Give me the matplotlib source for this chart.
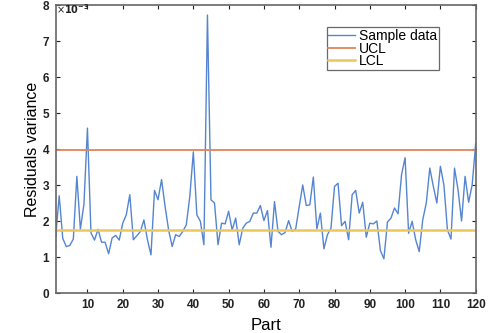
import numpy as np
import matplotlib
matplotlib.use("Agg")
import matplotlib.pyplot as plt
from matplotlib.ticker import ScalarFormatter, MultipleLocator

# Residual variance per part (scale 1e-3)
parts = np.arange(1, 121)
residual_var = np.array([
    1.57, 2.70, 1.52, 1.29, 1.32, 1.50, 3.24, 1.77, 2.46, 4.58,
    1.67, 1.47, 1.77, 1.41, 1.41, 1.09, 1.53, 1.60, 1.47, 1.94,
    2.17, 2.73, 1.48, 1.59, 1.71, 2.03, 1.48, 1.06, 2.85, 2.59,
    3.15, 2.40, 1.75, 1.29, 1.62, 1.57, 1.71, 1.89, 2.68, 3.92,
    2.17, 1.99, 1.34, 7.72, 2.59, 2.50, 1.34, 1.94, 1.92, 2.27,
    1.75, 2.08, 1.34, 1.80, 1.94, 1.99, 2.22, 2.22, 2.43, 2.01,
    2.29, 1.27, 2.54, 1.71, 1.62, 1.68, 2.01, 1.71, 1.78, 2.40,
    3.00, 2.43, 2.45, 3.22, 1.78, 2.22, 1.23, 1.62, 1.80, 2.96,
    3.05, 1.87, 1.99, 1.48, 2.73, 2.85, 2.22, 2.52, 1.55, 1.94,
    1.92, 2.00, 1.18, 0.95, 1.97, 2.08, 2.36, 2.20, 3.29, 3.76,
    1.66, 1.99, 1.48, 1.15, 2.03, 2.50, 3.47, 2.96, 2.50, 3.52,
    3.00, 1.75, 1.50, 3.47, 2.87, 2.00, 3.24, 2.52, 3.00, 4.15,
]) * 1e-3
ucl = 3.98e-3
lcl = 1.76e-3

x_ticks = list(range(10, 121, 10))

plt.rcParams["font.family"] = ["Liberation Sans", "DejaVu Sans"]

fig = plt.figure(figsize=(4.91, 3.33), dpi=100)
ax = fig.add_axes([0.1134, 0.1201, 0.8554, 0.8649])

ax.plot(parts, residual_var, color="#5585d0", lw=1.0, label="Sample data")
ax.plot([parts[0], parts[-1]], [ucl, ucl], color="#e2835a", lw=1.3, label="UCL")
ax.plot([parts[0], parts[-1]], [lcl, lcl], color="#ecc75a", lw=1.8, label="LCL")

ax.set_xlim(1, 120)
ax.set_ylim(0, 8e-3)
ax.set_xticks(x_ticks)
ax.yaxis.set_major_locator(MultipleLocator(1e-3))

fmt = ScalarFormatter(useMathText=True)
fmt.set_powerlimits((-3, -3))
ax.yaxis.set_major_formatter(fmt)
ax.yaxis.get_offset_text().set_visible(False)

ax.tick_params(direction="in", top=True, right=True, length=3, width=0.8,
               labelsize=8.5, colors="#222222", pad=4)
for lbl in ax.get_xticklabels() + ax.get_yticklabels():
    lbl.set_fontweight("bold")

# axis multiplier shown at the top-left corner of the axes
fig.text(0.115, 0.993, r"$\times\mathbf{10^{-3}}$", fontsize=7, fontweight="bold",
         ha="left", va="top", color="#222222")

for sp in ax.spines.values():
    sp.set_color("#666666")
    sp.set_linewidth(1.2)

ax.set_xlabel("Part", fontsize=12, labelpad=5)
ax.set_ylabel("Residuals variance", fontsize=11.5, labelpad=1)

leg = ax.legend(loc="upper left", bbox_to_anchor=(0.645, 0.922), fontsize=10,
                frameon=True, fancybox=False, handlelength=1.9,
                handletextpad=0.3, borderpad=0.12, labelspacing=-0.1,
                borderaxespad=0)
leg.get_frame().set_edgecolor("#444444")
leg.get_frame().set_linewidth(0.9)

fig.savefig("out.png", dpi=100)
